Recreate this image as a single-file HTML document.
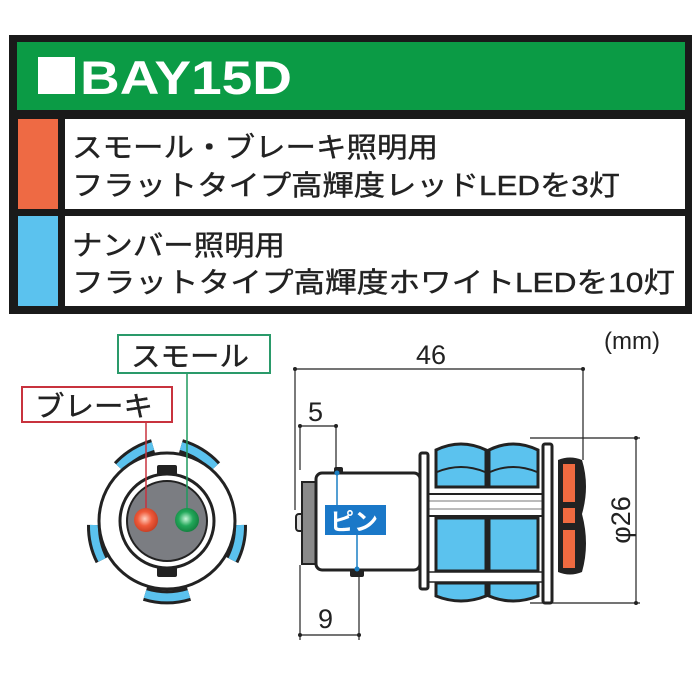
<!DOCTYPE html>
<html><head><meta charset="utf-8"><style>
html,body{margin:0;padding:0;background:#fff;}
svg{display:block;}
text{font-family:"Liberation Sans","Noto Sans CJK JP",sans-serif;}
</style></head><body>
<svg width="700" height="700" viewBox="0 0 700 700" xmlns="http://www.w3.org/2000/svg">
<!-- table -->
<rect x="9" y="35" width="683" height="279" fill="#1a1a1a"/>
<rect x="17" y="42" width="668" height="68" fill="#0b9b45"/>
<rect x="38" y="57" width="37" height="37" fill="#fff"/>
<text x="80" y="94" font-size="47" font-weight="bold" fill="#fff" textLength="212" lengthAdjust="spacingAndGlyphs">BAY15D</text>
<rect x="18" y="119" width="40" height="90" fill="#ee6a44"/>
<rect x="65" y="119" width="620" height="90" fill="#fff"/>
<rect x="18" y="216" width="40" height="90" fill="#5bc2ee"/>
<rect x="65" y="216" width="620" height="90" fill="#fff"/>
<g font-size="28" fill="#222" stroke="#222" stroke-width="0.4">
<text x="72" y="157" textLength="366" lengthAdjust="spacingAndGlyphs">スモール・ブレーキ照明用</text>
<text x="72" y="195" textLength="548" lengthAdjust="spacingAndGlyphs">フラットタイプ高輝度レッドLEDを3灯</text>
<text x="72" y="255" textLength="213" lengthAdjust="spacingAndGlyphs">ナンバー照明用</text>
<text x="72" y="292" textLength="603" lengthAdjust="spacingAndGlyphs">フラットタイプ高輝度ホワイトLEDを10灯</text>
</g>
<text x="604" y="349" font-size="24" fill="#222">(mm)</text>

<!-- connector -->
<g fill="none">
<g stroke="#222" stroke-width="14">
<path d="M119,467 A76,76 0 0 1 153,446"/>
<path d="M181,446 A76,76 0 0 1 215,467"/>
<path d="M240,525 A74,74 0 0 1 232,560"/>
<path d="M94,525 A74,74 0 0 0 102,560"/>
<path d="M145,594 A75,75 0 0 0 189,594"/>
</g>
<g stroke="#5bc2ee" stroke-width="8">
<path d="M119,467 A76,76 0 0 1 153,446"/>
<path d="M181,446 A76,76 0 0 1 215,467"/>
<path d="M240,525 A74,74 0 0 1 232,560"/>
<path d="M94,525 A74,74 0 0 0 102,560"/>
<path d="M145,594 A75,75 0 0 0 189,594"/>
</g>
</g>
<circle cx="167" cy="521" r="68" fill="#fff" stroke="#222" stroke-width="3"/>
<rect x="157" y="465" width="20" height="10" rx="2" fill="#222"/>
<rect x="157" y="567" width="20" height="10" rx="2" fill="#222"/>
<circle cx="167" cy="521" r="47" fill="#fff" stroke="#222" stroke-width="3"/>
<circle cx="167" cy="521" r="40" fill="#7b7d82" stroke="#222" stroke-width="2"/>
<defs>
<radialGradient id="rg" cx="0.45" cy="0.45" r="0.6"><stop offset="0" stop-color="#ffd0c0"/><stop offset="0.5" stop-color="#ef5a3a"/><stop offset="1" stop-color="#c23a20"/></radialGradient>
<radialGradient id="gg" cx="0.45" cy="0.45" r="0.6"><stop offset="0" stop-color="#c8f5d8"/><stop offset="0.5" stop-color="#22a85a"/><stop offset="1" stop-color="#127a3c"/></radialGradient>
</defs>
<line x1="146" y1="422" x2="146" y2="510" stroke="#c8323e" stroke-width="1.5"/>
<line x1="187" y1="373" x2="187" y2="510" stroke="#1f9a5e" stroke-width="1.5"/>
<circle cx="146" cy="520" r="12" fill="url(#rg)"/>
<circle cx="187" cy="520" r="12" fill="url(#gg)"/>
<rect x="118" y="335" width="152" height="38" fill="#fff" stroke="#2a9a6a" stroke-width="2"/>
<text x="131" y="366" font-size="28" fill="#222" stroke="#222" stroke-width="0.4" textLength="118" lengthAdjust="spacingAndGlyphs">スモール</text>
<rect x="22" y="387" width="150" height="35" fill="#fff" stroke="#c8323e" stroke-width="2"/>
<text x="35" y="416" font-size="28" fill="#222" stroke="#222" stroke-width="0.4" textLength="118" lengthAdjust="spacingAndGlyphs">ブレーキ</text>

<!-- bulb dims -->
<g stroke="#222" stroke-width="1.2" fill="none">
<line x1="295" y1="369" x2="583" y2="369"/>
<line x1="295" y1="369" x2="295" y2="510"/>
<line x1="583" y1="369" x2="583" y2="460"/>
<line x1="300" y1="426" x2="336" y2="426"/>
<line x1="300" y1="426" x2="300" y2="470"/>
<line x1="336" y1="426" x2="336" y2="470"/>
<line x1="300" y1="635" x2="359" y2="635"/>
<line x1="300" y1="565" x2="300" y2="640"/>
<line x1="359" y1="577" x2="359" y2="640"/>
<line x1="530" y1="438" x2="640" y2="438"/>
<line x1="530" y1="603" x2="640" y2="603"/>
<line x1="636" y1="438" x2="636" y2="603"/>
</g>
<g fill="#222">
<circle cx="295" cy="369" r="2"/><circle cx="583" cy="369" r="2"/>
<circle cx="300" cy="426" r="2"/><circle cx="336" cy="426" r="2"/>
<circle cx="300" cy="635" r="2"/><circle cx="359" cy="635" r="2"/>
<circle cx="636" cy="438" r="2"/><circle cx="636" cy="603" r="2"/>
</g>
<g font-size="27" fill="#222">
<text x="416" y="364">46</text>
<text x="308" y="421">5</text>
<text x="318" y="628">9</text>
<text transform="translate(630,520) rotate(-90)" text-anchor="middle">φ26</text>
</g>
<!-- bulb -->
<rect x="296" y="514" width="8" height="17" rx="3" fill="#ddd" stroke="#222" stroke-width="2"/>
<rect x="302" y="482" width="15" height="82" fill="#8a8a8a" stroke="#222" stroke-width="2"/>
<rect x="334" y="467" width="9" height="8" rx="2" fill="#222"/>
<rect x="350" y="569" width="14" height="8" rx="2" fill="#222"/>
<rect x="316" y="473" width="104" height="97" rx="6" fill="#fff" stroke="#222" stroke-width="3"/>
<line x1="337" y1="473" x2="337" y2="505" stroke="#1a7fc4" stroke-width="1.5"/>
<line x1="357" y1="535" x2="357" y2="569" stroke="#1a7fc4" stroke-width="1.5"/>
<circle cx="337" cy="473" r="2.5" fill="#1a7fc4"/><circle cx="357" cy="569" r="2.5" fill="#1a7fc4"/>
<rect x="325" y="505" width="61" height="30" fill="#1a78c8"/>
<text x="330" y="530" font-size="24" font-weight="bold" fill="#fff">ピン</text>
<!-- tubes -->
<rect x="428" y="494" width="115" height="22" fill="#fff" stroke="#222" stroke-width="2"/>
<line x1="428" y1="501" x2="543" y2="501" stroke="#777"/><line x1="428" y1="509" x2="543" y2="509" stroke="#777"/>
<rect x="428" y="572" width="115" height="10" fill="#fff" stroke="#222" stroke-width="1.5"/>
<g fill="#5bc2ee" stroke="#222" stroke-width="3">
<path d="M436,450 Q461,438 486,450 L486,487 L436,487 Z"/>
<path d="M489,450 Q513,438 538,450 L538,487 L489,487 Z"/>
<rect x="436" y="518" width="50" height="53"/>
<rect x="489" y="518" width="49" height="53"/>
<path d="M436,583 L486,583 L486,596 Q461,606 436,596 Z"/>
<path d="M489,583 L538,583 L538,596 Q513,606 489,596 Z"/>
</g>
<g stroke="#222" stroke-width="2" fill="none">
<path d="M437,472 Q461,462 485,472"/><path d="M490,472 Q513,462 537,472"/>
</g>
<rect x="420" y="453" width="8" height="136" rx="2" fill="#fff" stroke="#222" stroke-width="3"/>
<rect x="543" y="444" width="9" height="159" rx="2" fill="#fff" stroke="#222" stroke-width="3"/>
<path d="M558,460 Q570,455 582,460 Q590,486 582,514 Q590,544 582,572 Q570,577 558,572 Z" fill="#222"/>
<rect x="563" y="464" width="12" height="38" fill="#ef6a40"/>
<rect x="563" y="508" width="12" height="15" fill="#ef6a40"/>
<rect x="563" y="530" width="12" height="38" fill="#ef6a40"/>
</svg>
</body></html>
